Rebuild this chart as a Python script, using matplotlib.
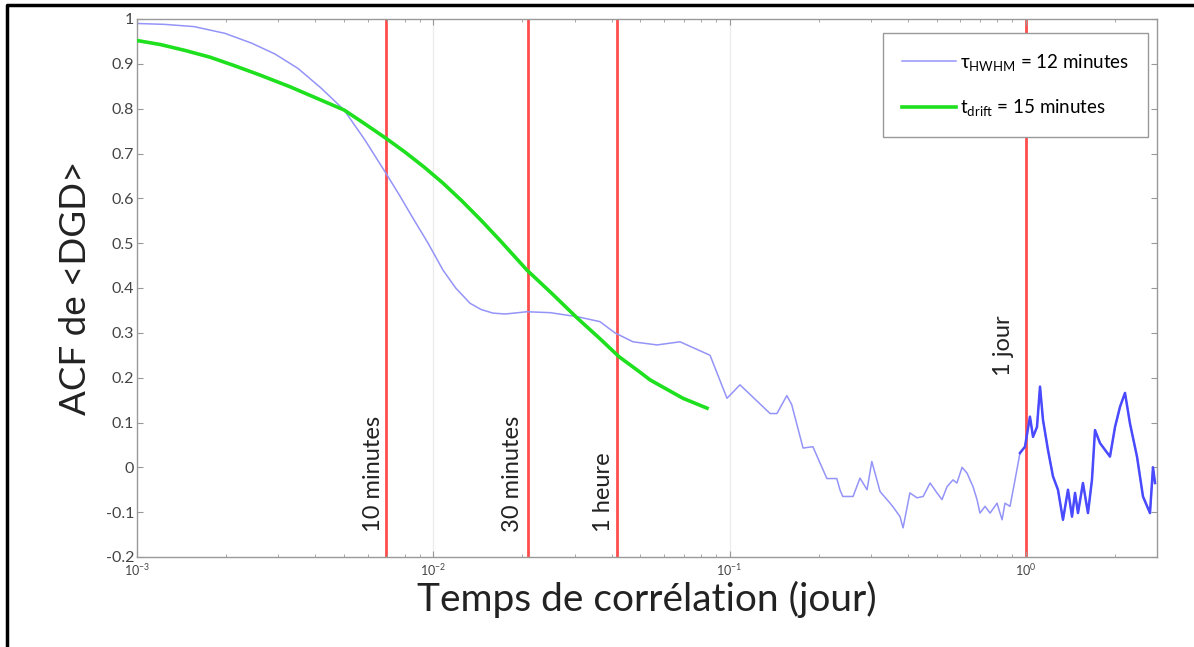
import numpy as np
import matplotlib.pyplot as plt
from matplotlib.lines import Line2D

plt.rcParams['font.family'] = ['Lato', 'DejaVu Sans']
plt.rcParams['mathtext.default'] = 'regular'

# ACF of <DGD> vs correlation time (days)
hwhm_t = [0.001, 0.00124, 0.00156, 0.00198, 0.00244, 0.00292, 0.00349, 0.00418, 0.00500, 0.00588,
          0.00692, 0.00772, 0.00848, 0.0096, 0.01078, 0.0119, 0.0133, 0.0145, 0.0159, 0.0175,
          0.0207, 0.0248, 0.0306, 0.0365, 0.0410, 0.0472, 0.0569, 0.0680, 0.0859, 0.0980, 0.1084,
          0.137, 0.1445, 0.156, 0.162, 0.177, 0.191, 0.213, 0.230, 0.236, 0.241,
          0.261, 0.2755, 0.291, 0.302, 0.322, 0.348, 0.356, 0.376, 0.385, 0.406,
          0.429, 0.450, 0.475, 0.501, 0.521, 0.542, 0.5675, 0.585, 0.609, 0.633,
          0.663, 0.684, 0.700, 0.728, 0.757, 0.799, 0.831, 0.850, 0.884, 0.919,
          0.955, 0.993, 1.032, 1.057, 1.090, 1.116, 1.142, 1.187, 1.234, 1.283,
          1.334, 1.387, 1.431, 1.465, 1.499, 1.558, 1.620, 1.671, 1.711, 1.779,
          1.849, 1.922, 1.999, 2.078, 2.160, 2.245, 2.371, 2.484, 2.623, 2.685, 2.728]
hwhm_acf = [0.990, 0.988, 0.983, 0.968, 0.946, 0.922, 0.890, 0.846, 0.797, 0.730,
            0.656, 0.605, 0.559, 0.500, 0.440, 0.400, 0.366, 0.352, 0.344, 0.342,
            0.347, 0.345, 0.336, 0.325, 0.300, 0.280, 0.273, 0.280, 0.250, 0.154, 0.184,
            0.120, 0.120, 0.160, 0.140, 0.043, 0.046, -0.025, -0.025, -0.051, -0.065,
            -0.065, -0.024, -0.050, 0.013, -0.054, -0.080, -0.088, -0.110, -0.135, -0.057,
            -0.068, -0.065, -0.035, -0.057, -0.072, -0.043, -0.028, -0.035, 0.000, -0.013,
            -0.043, -0.072, -0.102, -0.087, -0.102, -0.080, -0.117, -0.080, -0.087, -0.028,
            0.032, 0.046, 0.113, 0.068, 0.090, 0.180, 0.106, 0.039, -0.020, -0.050,
            -0.117, -0.050, -0.110, -0.057, -0.102, -0.035, -0.102, -0.028, 0.083, 0.054,
            0.039, 0.024, 0.090, 0.135, 0.166, 0.098, 0.024, -0.065, -0.102, 0.000, -0.035]

drift_t = [0.001, 0.00120, 0.00145, 0.00176, 0.00211, 0.00260, 0.00328, 0.00405, 0.00500, 0.00588,
           0.00692, 0.00803, 0.0093, 0.01078, 0.0125, 0.0145, 0.0168, 0.0207, 0.0252, 0.0306,
           0.0365, 0.0423, 0.0499, 0.0539, 0.0696, 0.0839]
drift_acf = [0.952, 0.943, 0.930, 0.915, 0.897, 0.875, 0.849, 0.823, 0.797, 0.766,
             0.734, 0.703, 0.670, 0.634, 0.594, 0.551, 0.506, 0.440, 0.387, 0.333,
             0.287, 0.247, 0.212, 0.195, 0.154, 0.132]

# reference times (days) and their labels
mark_t = [10 / 1440, 30 / 1440, 60 / 1440, 1.0]
mark_lbl = ['10 minutes', '30 minutes', '1 heure', '1 jour']
mark_y = [-0.144, -0.144, -0.144, 0.204]
mark_dx = [-9, -11, -10, -16]

yticks = [round(v, 1) for v in np.arange(-0.2, 1.01, 0.1)]

fig = plt.figure(figsize=(11.94, 6.47), dpi=100)
ax = fig.add_axes([137 / 1194, 1 - 557 / 647, 1020 / 1194, 538 / 647])

ax.set_xscale('log')
ax.set_xlim(1e-3, 2.77)
ax.set_ylim(-0.2, 1.0)

for t in [1e-2, 1e-1]:
    ax.axvline(t, color='#ececec', lw=1, zorder=0)

for t, lbl, y, dx in zip(mark_t, mark_lbl, mark_y, mark_dx):
    ax.axvline(t, color='#ff4d4d', lw=2, zorder=1)
    ax.annotate(lbl, xy=(t, y), xytext=(dx, 0), textcoords='offset points',
                rotation=90, ha='center', va='bottom', fontsize=17, color='#222222')

tail = [i for i, t in enumerate(hwhm_t) if t >= 0.95]
ax.plot(hwhm_t, hwhm_acf, color='#9494f8', lw=1.1, zorder=2)
ax.plot([hwhm_t[i] for i in tail], [hwhm_acf[i] for i in tail], color='#4a4aff', lw=1.8, zorder=2)
ax.plot(drift_t, drift_acf, color='#1ee01e', lw=2.6, zorder=3)

ax.set_yticks(yticks)
ax.set_yticklabels(['%g' % v for v in yticks])
ax.set_xticks([1e-3, 1e-2, 1e-1, 1e0])
ax.set_xticklabels([r'$10^{-3}$', r'$10^{-2}$', r'$10^{-1}$', r'$10^{0}$'])
ax.tick_params(axis='both', which='both', direction='in', top=True, right=True,
               color='#999999', labelcolor='#444444')
ax.tick_params(axis='y', labelsize=11.5, length=4, pad=2)
ax.tick_params(axis='x', labelsize=9, length=4, pad=4)
ax.tick_params(axis='x', which='minor', length=2.5)
for s in ax.spines.values():
    s.set_color('#999999')
    s.set_linewidth(1)

ax.set_xlabel('Temps de corrélation (jour)', fontsize=28, color='#222222', labelpad=2)
ax.set_ylabel('ACF de <DGD>', fontsize=26.5, color='#222222', labelpad=10)

handles = [Line2D([], [], color='#9494f8', lw=1.1), Line2D([], [], color='#1ee01e', lw=2.6)]
labels = [r'$\tau_{HWHM}$ = 12 minutes', r'$t_{drift}$ = 15 minutes']
leg = ax.legend(handles, labels, loc='upper right', bbox_to_anchor=(0.991, 0.974),
                borderaxespad=0, fontsize=13.5, handlelength=2.9, labelspacing=1.3,
                borderpad=1.0, handletextpad=0.2, fancybox=False, framealpha=1,
                edgecolor='#999999')
leg.get_frame().set_linewidth(1)

# frame around the picture (top and left edges)
fig.add_artist(Line2D([7 / 1194, 7 / 1194, 1.0], [0.0, 1 - 5 / 647, 1 - 5 / 647],
                      transform=fig.transFigure, color='black', lw=2.5))

fig.savefig('out.png', dpi=100)
